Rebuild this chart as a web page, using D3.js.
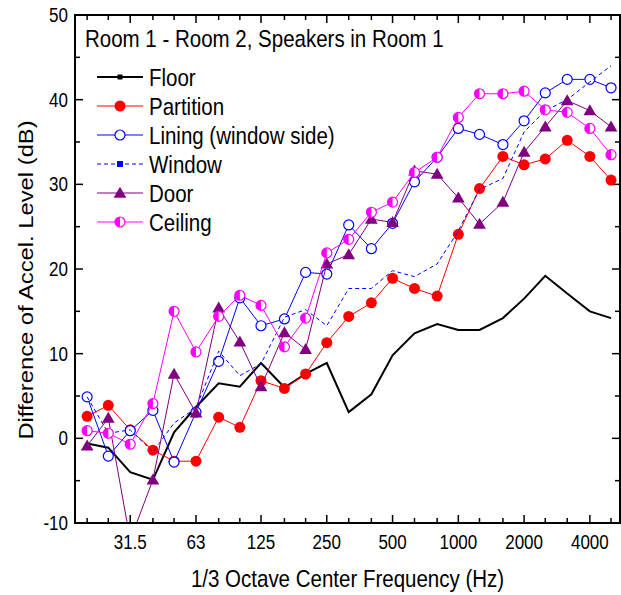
<!DOCTYPE html>
<html>
<head>
<meta charset="utf-8">
<script src="https://cdn.jsdelivr.net/npm/d3@7"></script>
<style>
  body { margin: 0; background: #fff; }
  svg { display: block; font-family: "Liberation Sans", Arial, sans-serif; }
</style>
</head>
<body>
<svg id="chart"></svg>
<script>
// 1/3 octave band centre frequencies (Hz)
const freqs = [20, 25, 31.5, 40, 50, 63, 80, 100, 125, 160, 200, 250, 315, 400, 500,
  630, 800, 1000, 1250, 1600, 2000, 2500, 3150, 4000, 5000];
const tickLabels = ['31.5', '63', '125', '250', '500', '1000', '2000', '4000'];
const yTicks = [-10, 0, 10, 20, 30, 40, 50];

const floorVals = [-0.6, -1.1, -4.0, -4.9, 0.7, 3.7, 6.5, 6.1, 8.9, 6.0, 7.6, 8.9, 3.1, 5.2, 9.8,
  12.4, 13.5, 12.8, 12.8, 14.2, 16.5, 19.2, 17.1, 15.0, 14.2];
const partitionVals = [2.6, 3.9, 1.0, -1.4, -2.7, -2.7, 2.5, 1.3, 6.8, 5.9, 7.6, 11.3, 14.4, 16.0, 18.9,
  17.7, 16.8, 24.1, 29.5, 33.3, 32.3, 33.0, 35.2, 33.3, 30.5];
const liningVals = [4.9, -2.1, 0.9, 3.3, -2.8, 3.1, 9.1, 16.6, 13.3, 14.1, 19.6, 19.4, 25.2, 22.4, 25.4,
  30.3, 33.2, 36.6, 35.9, 34.7, 37.5, 40.8, 42.4, 42.4, 41.4];
const windowVals = [4.9, 0.6, 1.0, -1.6, 1.8, 3.6, 10.3, 7.4, 8.8, 14.3, 15.2, 13.3, 17.7, 17.7, 19.8,
  19.1, 20.6, 24.5, 29.4, 30.7, 36.2, 38.7, 40.0, 42.1, 44.0];
const doorVals = [-0.9, 2.4, -12.0, -4.9, 7.6, 3.0, 15.4, 11.4, 6.1, 12.5, 10.5, 20.6, 21.7, 25.9, 25.5,
  31.6, 31.2, 28.4, 25.3, 27.9, 33.8, 36.8, 39.9, 38.7, 36.8];
const ceilingVals = [0.9, 0.6, -0.7, 4.1, 15.0, 10.2, 14.4, 16.9, 15.7, 10.8, 14.2, 21.9, 23.5, 26.7, 27.9,
  31.4, 33.2, 37.9, 40.7, 40.7, 41.0, 38.8, 38.5, 36.6, 33.5];

const series = [
  { name: 'Floor', values: floorVals, color: '#000', width: 2, marker: 'square', onPlot: false },
  { name: 'Partition', values: partitionVals, color: '#ff0000', width: 1, marker: 'dot', onPlot: true },
  { name: 'Lining (window side)', values: liningVals, color: '#0000ff', width: 1, marker: 'ring', onPlot: true },
  { name: 'Window', values: windowVals, color: '#0000ff', width: 1, dash: '4,3', marker: 'smallsquare', onPlot: false },
  { name: 'Door', values: doorVals, color: '#800080', width: 1, marker: 'triangle', onPlot: true },
  { name: 'Ceiling', values: ceilingVals, color: '#ff00ff', width: 1, marker: 'half', onPlot: true }
];

const width = 621;
const height = 595;
const margin = { top: 15, right: 1, bottom: 72, left: 75 };
const stretch = 1.16; // the source image text is a bit taller than wide

const svg = d3.select('#chart')
    .attr('width', width)
    .attr('height', height);

const x = d3.scaleLog()
    .domain([17.6, 5495])
    .range([margin.left, width - margin.right]);

const y = d3.scaleLinear()
    .domain([-10, 50])
    .range([height - margin.bottom, margin.top]);

function label(g, tx, ty, str, size, anchor) {
  return g.append('text')
      .attr('transform', `translate(${tx},${ty}) scale(1,${stretch})`)
      .attr('text-anchor', anchor || 'start')
      .attr('font-size', size)
      .text(str);
}

svg.append('clipPath').attr('id', 'plot-clip')
  .append('rect')
    .attr('x', margin.left)
    .attr('y', margin.top)
    .attr('width', width - margin.left - margin.right)
    .attr('height', height - margin.top - margin.bottom);

// axes: ticks pointing inward on all four sides
const yBottom = y(-10), yTop = y(50), xLeft = x.range()[0], xRight = x.range()[1];
const axisG = svg.append('g');

freqs.forEach(f => {
  const major = tickLabels.includes(String(f));
  const len = major ? 8 : 5;
  axisG.append('line').attr('x1', x(f)).attr('x2', x(f))
      .attr('y1', yBottom).attr('y2', yBottom - len)
      .attr('stroke', '#000').attr('stroke-width', 1.5);
  axisG.append('line').attr('x1', x(f)).attr('x2', x(f))
      .attr('y1', yTop).attr('y2', yTop + len)
      .attr('stroke', '#000').attr('stroke-width', 1.5);
  if (major) label(axisG, x(f), yBottom + 26, String(f), 17, 'middle');
});

d3.range(-10, 51, 5).forEach(v => {
  const major = v % 10 === 0;
  const len = major ? 8 : 5;
  axisG.append('line').attr('x1', xLeft).attr('x2', xLeft + len)
      .attr('y1', y(v)).attr('y2', y(v))
      .attr('stroke', '#000').attr('stroke-width', 1.5);
  axisG.append('line').attr('x1', xRight).attr('x2', xRight - len)
      .attr('y1', y(v)).attr('y2', y(v))
      .attr('stroke', '#000').attr('stroke-width', 1.5);
});

yTicks.forEach(v => label(axisG, xLeft - 7, y(v) + 7, v, 17, 'end'));

// series
function drawMarker(g, s, cx, cy) {
  const r = 5.5;
  if (s.marker === 'dot') {
    g.append('circle').attr('cx', cx).attr('cy', cy).attr('r', r).attr('fill', s.color);
  } else if (s.marker === 'ring') {
    g.append('circle').attr('cx', cx).attr('cy', cy).attr('r', r - 0.5)
        .attr('fill', '#fff').attr('stroke', s.color).attr('stroke-width', 1.2);
  } else if (s.marker === 'triangle') {
    g.append('path')
        .attr('d', d3.symbol(d3.symbolTriangle, 70)())
        .attr('transform', `translate(${cx},${cy + 1})`)
        .attr('fill', s.color);
  } else if (s.marker === 'half') {
    g.append('circle').attr('cx', cx).attr('cy', cy).attr('r', r - 0.5)
        .attr('fill', '#fff').attr('stroke', s.color).attr('stroke-width', 1.2);
    g.append('path')
        .attr('d', `M${cx},${cy - r + 0.5}A${r - 0.5},${r - 0.5} 0 0 0 ${cx},${cy + r - 0.5}Z`)
        .attr('fill', s.color);
  } else if (s.marker === 'square') {
    g.append('rect').attr('x', cx - 2.5).attr('y', cy - 2.5).attr('width', 5).attr('height', 5)
        .attr('fill', s.color);
  } else if (s.marker === 'smallsquare') {
    g.append('rect').attr('x', cx - 3).attr('y', cy - 3).attr('width', 6).attr('height', 6)
        .attr('fill', s.color);
  }
}

const line = d3.line()
    .x(d => x(d[0]))
    .y(d => y(d[1]));

const plot = svg.append('g').attr('clip-path', 'url(#plot-clip)');

series.forEach(s => {
  const pts = freqs.map((f, i) => [f, s.values[i]]);
  const g = plot.append('g');
  g.append('path')
      .attr('d', line(pts))
      .attr('fill', 'none')
      .attr('stroke', s.color)
      .attr('stroke-width', s.width)
      .attr('stroke-dasharray', s.dash || null);
  if (s.onPlot) pts.forEach(p => drawMarker(g, s, x(p[0]), y(p[1])));
});

// frame
svg.append('rect')
    .attr('x', xLeft).attr('y', yTop)
    .attr('width', xRight - xLeft).attr('height', yBottom - yTop)
    .attr('fill', 'none').attr('stroke', '#000').attr('stroke-width', 2);

// legend
const legend = svg.append('g');
label(legend, 85, 47, 'Room 1 - Room 2, Speakers in Room 1', 20.5);

series.forEach((s, i) => {
  const ly = 77 + i * 29;
  legend.append('line')
      .attr('x1', 97).attr('x2', 143).attr('y1', ly).attr('y2', ly)
      .attr('stroke', s.color).attr('stroke-width', s.width)
      .attr('stroke-dasharray', s.dash || null);
  drawMarker(legend, s, 120, ly);
  label(legend, 149, ly + 8.5, s.name, 20.5);
});

// axis titles
label(svg, (xLeft + xRight) / 2, 587, '1/3 Octave Center Frequency (Hz)', 20.5, 'middle');

svg.append('text')
    .attr('transform', `translate(33,280) scale(1,${stretch}) rotate(-90)`)
    .attr('text-anchor', 'middle')
    .attr('font-size', 20.5)
    .text('Difference of Accel. Level (dB)');
</script>
</body>
</html>
